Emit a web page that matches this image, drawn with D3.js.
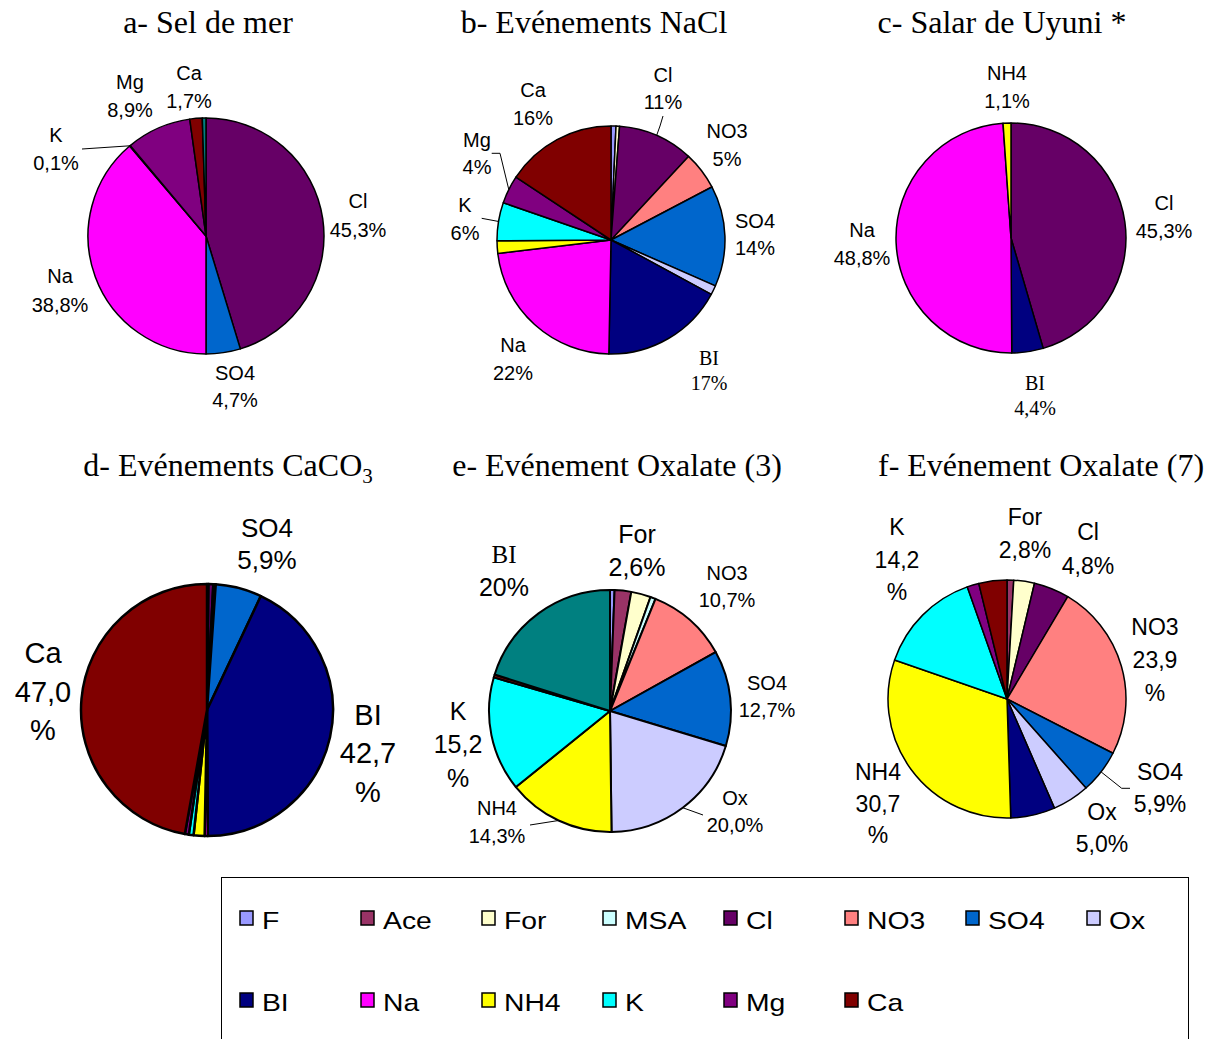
<!DOCTYPE html>
<html><head><meta charset="utf-8">
<script src="https://cdn.jsdelivr.net/npm/d3@7"></script>
<style>body{margin:0;background:#fff}svg{display:block}</style>
</head><body>
<svg id="chart" width="1215" height="1039"></svg>
<script>
// ---------- data ----------
const legendKeys = ["F","Ace","For","MSA","Cl","NO3","SO4","Ox","BI","Na","NH4","K","Mg","Ca"];
const legendColors = ["#9999FF","#993366","#FFFFCC","#CCFFFF","#660066","#FF8080","#0066CC","#CCCCFF","#000080","#FF00FF","#FFFF00","#00FFFF","#800080","#800000"];

const aKeys = ["Cl","SO4","Na","K","Mg","Ca","BI"];
const aValues = [45.3,4.7,38.8,0.1,8.9,1.7,0.5];
const aPct = ["45,3%","4,7%","38,8%","0,1%","8,9%","1,7%",""];

const bKeys = ["F","For","Cl","NO3","SO4","Ox","BI","Na","NH4","K","Mg","Ca"];
const bValues = [0.7,0.5,10.7,5.4,14.3,1.3,17.4,22.8,1.8,5.4,4.0,15.7];
const bPct = ["","","11%","5%","14%","","17%","22%","","6%","4%","16%"];

const cKeys = ["Cl","BI","Na","NH4"];
const cValues = [45.3,4.4,48.8,1.1];
const cPct = ["45,3%","4,4%","48,8%","1,1%"];

const dKeys = ["F","Cl","NO3","SO4","BI","Na","NH4","K","Mg","Ca"];
const dValues = [0.2,0.6,0.3,5.9,42.7,0.4,1.4,0.6,0.5,47.0];
const dPct = ["","","","5,9%","42,7%","","","","","47,0%"];

const eKeys = ["F","Ace","For","MSA","NO3","SO4","Ox","NH4","K","Ca","BI"];
const eValues = [0.6,2.2,2.6,0.7,10.7,12.7,20.0,14.3,15.2,0.4,20.0];
const ePct = ["","","2,6%","","10,7%","12,7%","20,0%","14,3%","15,2%","","20%"];

const fKeys = ["Ace","For","Cl","NO3","SO4","Ox","BI","NH4","K","Mg","Ca"];
const fValues = [0.9,2.8,4.8,23.9,5.9,5.0,6.0,30.7,14.2,1.6,3.8];
const fPct = ["","2,8%","4,8%","23,9%","5,9%","5,0%","","30,7%","14,2%","",""];

// ---------- layout ----------
const SANS = "'Liberation Sans', Arial, sans-serif";
const SERIF = "'Liberation Serif', 'Times New Roman', serif";
const TEAL = "#008080";

const pies = [
  {title:"a- Sel de mer", tx:208, ty:33, keys:aKeys, values:aValues, pct:aPct, cx:206, cy:236, r:118, sw:1.5, override:{BI:TEAL},
   labels:[
     {key:"Cl", x:358, y:208, gap:28.5, size:20},
     {key:"SO4", x:235, y:380, gap:27, size:20},
     {key:"Na", x:60, y:283, gap:28.7, size:20},
     {key:"K", x:56, y:141.7, gap:28.3, size:20, leader:[[82,149]]},
     {key:"Mg", x:130, y:89, gap:28, size:20},
     {key:"Ca", x:189, y:80, gap:28, size:20}
   ]},
  {title:"b- Evénements NaCl", tx:594, ty:33, keys:bKeys, values:bValues, pct:bPct, cx:611, cy:240, r:114, sw:1.5, override:{},
   labels:[
     {key:"Cl", x:663, y:82, gap:26.5, size:20, leader:[[663,116],[660,126]]},
     {key:"NO3", x:727, y:138, gap:27.7, size:20},
     {key:"SO4", x:755, y:228, gap:27, size:20},
     {key:"BI", x:709, y:365, gap:25, size:20, nameFont:SERIF, pctFont:SERIF},
     {key:"Na", x:513, y:352, gap:28, size:20},
     {key:"K", x:465, y:212, gap:27.5, size:20, leader:[[481.7,218.3]]},
     {key:"Mg", x:477, y:147, gap:27.3, size:20, leader:[[491.7,153.3],[500,153.3]]},
     {key:"Ca", x:533, y:97, gap:28, size:20}
   ]},
  {title:"c- Salar de Uyuni *", tx:1002, ty:33, keys:cKeys, values:cValues, pct:cPct, cx:1011, cy:238, r:115, sw:1.5, override:{},
   labels:[
     {key:"NH4", x:1007, y:80, gap:28, size:20},
     {key:"Cl", x:1164, y:210, gap:28, size:20},
     {key:"Na", x:862, y:237, gap:28, size:20},
     {key:"BI", x:1035, y:390, gap:25, size:20, nameFont:SERIF, pctFont:SERIF}
   ]},
  {title:"d- Evénements CaCO", sub:"3", tx:228, ty:476, keys:dKeys, values:dValues, pct:dPct, cx:207, cy:710, r:126, sw:2.5, override:{},
   labels:[
     {key:"SO4", x:267, y:537, gap:31.5, size:26},
     {key:"Ca", x:43, y:663, gap:38.5, size:29, wrap:true},
     {key:"BI", x:368, y:725, gap:38.3, size:29, wrap:true}
   ]},
  {title:"e- Evénement Oxalate (3)", tx:617, ty:476, keys:eKeys, values:eValues, pct:ePct, cx:610, cy:711, r:121, sw:2, override:{BI:TEAL},
   labels:[
     {key:"For", x:637, y:543, gap:33.4, size:25},
     {key:"BI", x:504, y:563, gap:33.4, size:25, nameFont:SERIF},
     {key:"NO3", x:727, y:580, gap:26.7, size:20},
     {key:"SO4", x:767, y:690, gap:26.7, size:20},
     {key:"Ox", x:735, y:805, gap:26.7, size:20, leader:[[703,815]]},
     {key:"NH4", x:497, y:815, gap:28.3, size:20, leader:[[530,825]]},
     {key:"K", x:458, y:720, gap:33.3, size:25, wrap:true}
   ]},
  {title:"f- Evénement Oxalate (7)", tx:1041, ty:476, keys:fKeys, values:fValues, pct:fPct, cx:1007, cy:699, r:119, sw:1.5, override:{},
   labels:[
     {key:"K", x:897, y:535, gap:32.5, size:23, wrap:true},
     {key:"For", x:1025, y:525, gap:33.3, size:23},
     {key:"Cl", x:1088, y:540, gap:34, size:23},
     {key:"NO3", x:1155, y:635, gap:33, size:23, wrap:true},
     {key:"SO4", x:1160, y:780, gap:32, size:23, leader:[[1130,788.3],[1121.7,788.3]]},
     {key:"Ox", x:1102, y:820, gap:32, size:23},
     {key:"NH4", x:878, y:780, gap:31.7, size:23, wrap:true}
   ]}
];

// ---------- drawing ----------
const svg = d3.select("#chart");
svg.append("rect").attr("width",1215).attr("height",1039).attr("fill","#fff");
const color = d3.scaleOrdinal().domain(legendKeys).range(legendColors);
const pieGen = d3.pie().sort(null).value(d => d.v);

pies.forEach(p => {
  const g = svg.append("g");
  // title
  const t = g.append("text").attr("x", p.tx).attr("y", p.ty).attr("text-anchor","middle")
    .attr("font-family", SERIF).attr("font-size", 32).attr("fill","#000");
  t.append("tspan").text(p.title);
  if (p.sub) t.append("tspan").attr("font-size", 21).attr("dy", 7).text(p.sub);

  const data = p.keys.map((k,i) => ({k, v:p.values[i]}));
  const arcs = pieGen(data);
  const arc = d3.arc().innerRadius(0).outerRadius(p.r);
  g.append("g").attr("transform", `translate(${p.cx},${p.cy})`)
    .selectAll("path").data(arcs).join("path")
    .attr("d", arc)
    .attr("fill", d => p.override[d.data.k] || color(d.data.k))
    .attr("stroke","#000").attr("stroke-width", p.sw).attr("stroke-linejoin","round");

  p.labels.forEach(l => {
    const i = p.keys.indexOf(l.key);
    const pct = p.pct[i];
    let lines = [l.key, pct];
    if (l.wrap) lines = [l.key, pct.replace("%",""), "%"];
    lines.forEach((txt, j) => {
      g.append("text").attr("x", l.x).attr("y", l.y + j*l.gap).attr("text-anchor","middle")
        .attr("font-family", j===0 ? (l.nameFont||SANS) : (l.pctFont||SANS))
        .attr("font-size", l.size).attr("fill","#000").text(txt);
    });
    if (l.leader) {
      const s = arcs[i];
      const a = (s.startAngle + s.endAngle)/2;
      const pt = [p.cx + p.r*Math.sin(a), p.cy - p.r*Math.cos(a)];
      g.append("path").attr("d", d3.line()([...l.leader, pt]))
        .attr("fill","none").attr("stroke","#000").attr("stroke-width",1);
    }
  });
});

// legend
const lg = svg.append("g");
lg.append("rect").attr("x",221.5).attr("y",877.5).attr("width",967).attr("height",220)
  .attr("fill","#fff").attr("stroke","#000").attr("stroke-width",1);
const colX = d3.scalePoint().domain(d3.range(8)).range([240,1087]);
legendKeys.forEach((k,i) => {
  const col = i % 8, row = Math.floor(i/8);
  const x = colX(col), y = 911 + row*82;
  lg.append("rect").attr("x",x).attr("y",y).attr("width",13).attr("height",14)
    .attr("fill", color(k)).attr("stroke","#000").attr("stroke-width",1.5);
  lg.append("text").attr("x", x+22).attr("y", y+18)
    .attr("font-family", SANS).attr("font-size", 24).attr("fill","#000")
    .attr("transform", `translate(${x+22},0) scale(1.18,1) translate(${-(x+22)},0)`)
    .text(k);
});
</script>
</body></html>
